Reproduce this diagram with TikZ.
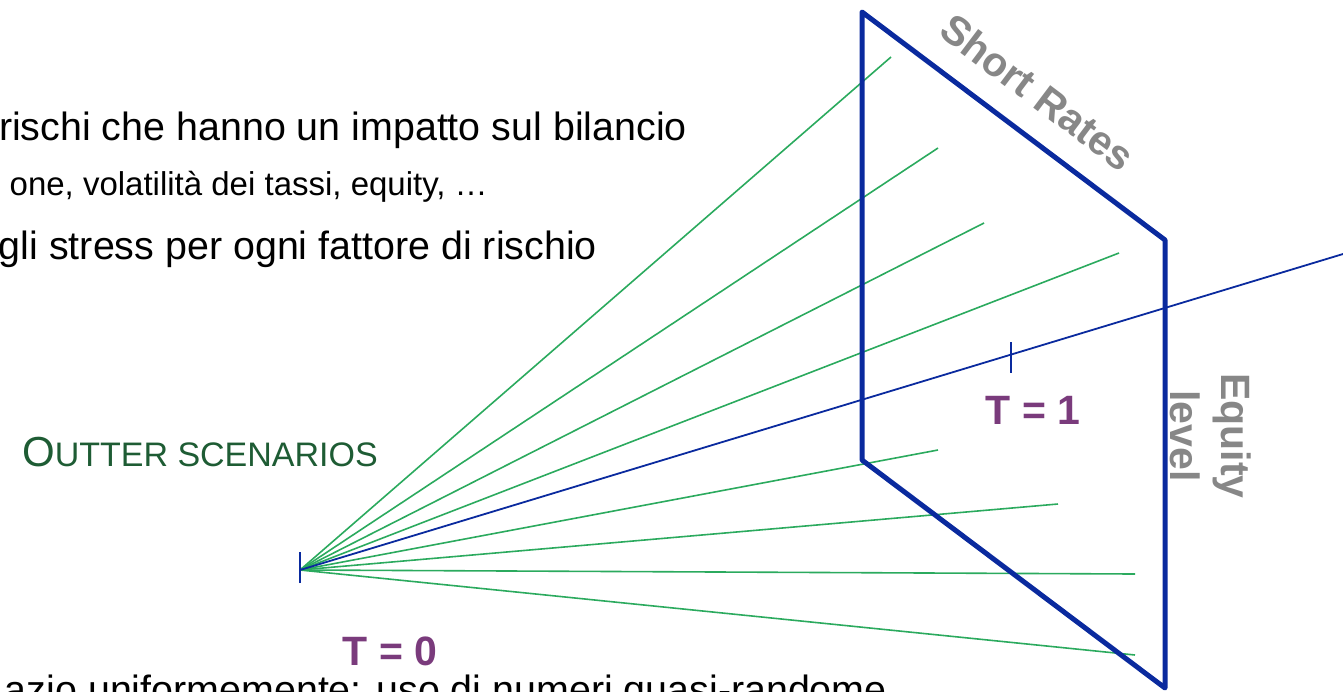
\documentclass[tikz,border=0pt]{standalone}
\usepackage{fontspec}
\setmainfont{Liberation Sans}
\usetikzlibrary{positioning}
\definecolor{planeblue}{HTML}{0A2A9E}
\definecolor{pathgreen}{HTML}{2BAA5E}
\definecolor{labelgreen}{HTML}{1E5C34}
\definecolor{timepurple}{HTML}{7A3B7C}
\definecolor{axisgray}{HTML}{878787}

\begin{document}
\begin{tikzpicture}[
  x=1pt, y=-1pt,
  plane/.style={draw=planeblue, line width=5pt, line join=round},
  scenpath/.style={draw=pathgreen, line width=1.6pt},
  meanpath/.style={draw=planeblue, line width=1.8pt},
  tickmark/.style={draw=planeblue, line width=2.4pt},
  bodytext/.style={inner sep=0pt, font=\fontsize{39.4}{47}\selectfont},
  timelabel/.style={inner sep=0pt, text=timepurple, font=\fontsize{41}{49}\selectfont\bfseries},
  axislabel/.style={inner sep=0pt, text=axisgray, font=\fontsize{41}{51}\selectfont\bfseries, align=center}
]
  \useasboundingbox (0,0) rectangle (1343,691);
  \clip (0,0) rectangle (1343,691);

  % Text lines (cut by the left and bottom edges)
  \node[bodytext, anchor=base east] (risks) at (687,140) {rischi che hanno un impatto sul bilancio};
  \node[bodytext, anchor=base east, font=\fontsize{33}{40}\selectfont] (factors) at (488,195) {one, volatilità dei tassi, equity, …};
  \node[bodytext, anchor=base east] (stress) at (597,259) {gli stress per ogni fattore di rischio};
  \node[bodytext, anchor=base east] (sampling) at (887,703) {azio uniformemente: uso di numeri quasi-randome};

  % Scenario fan
  \coordinate (origin) at (300,570);
  \coordinate (s1) at (891,57);
  \coordinate (s2) at (938,148);
  \coordinate (s3) at (984,223);
  \coordinate (s4) at (1119,253);
  \coordinate (s5) at (938,450);
  \coordinate (s6) at (1058,504);
  \coordinate (s7) at (1135,574);
  \coordinate (s8) at (1135,655);
  \coordinate (meanend) at (1343,254);
  \draw[scenpath] (origin) -- (s1);
  \draw[scenpath] (origin) -- (s2);
  \draw[scenpath] (origin) -- (s3);
  \draw[scenpath] (origin) -- (s4);
  \draw[scenpath] (origin) -- (s5);
  \draw[scenpath] (origin) -- (s6);
  \draw[scenpath] (origin) -- (s7);
  \draw[scenpath] (origin) -- (s8);
  \draw[meanpath] (origin) -- (meanend);

  % Time ticks
  \coordinate (tonemark) at (1011,357);
  \draw[tickmark] ([yshift=-13pt]origin) -- ([yshift=18pt]origin);
  \draw[tickmark] ([yshift=15pt]tonemark) -- ([yshift=-16pt]tonemark);

  % Plane at T = 1
  \coordinate (pa) at (862,12);
  \coordinate (pb) at (862,460);
  \coordinate (pc) at (1165,688);
  \coordinate (pd) at (1165,240);
  \draw[plane] (pa) -- (pb) -- (pc) -- (pd) -- cycle;

  % Labels
  \node[inner sep=0pt, anchor=base east, text=labelgreen] (outer) at (378,466)
    {\fontsize{42}{50}\selectfont O\fontsize{34}{40}\selectfont UTTER SCENARIOS};
  \node[timelabel, anchor=base] (tzero) at (390,665) {T = 0};
  \node[timelabel, anchor=base] (tone) at (1033,424) {T = 1};
  \node[axislabel, anchor=base, rotate=-37] (rates) at (1029,104) {Short Rates};
  \node[axislabel, rotate=-90] (equity) at (1211,436) {Equity\\level};
\end{tikzpicture}
\end{document}
